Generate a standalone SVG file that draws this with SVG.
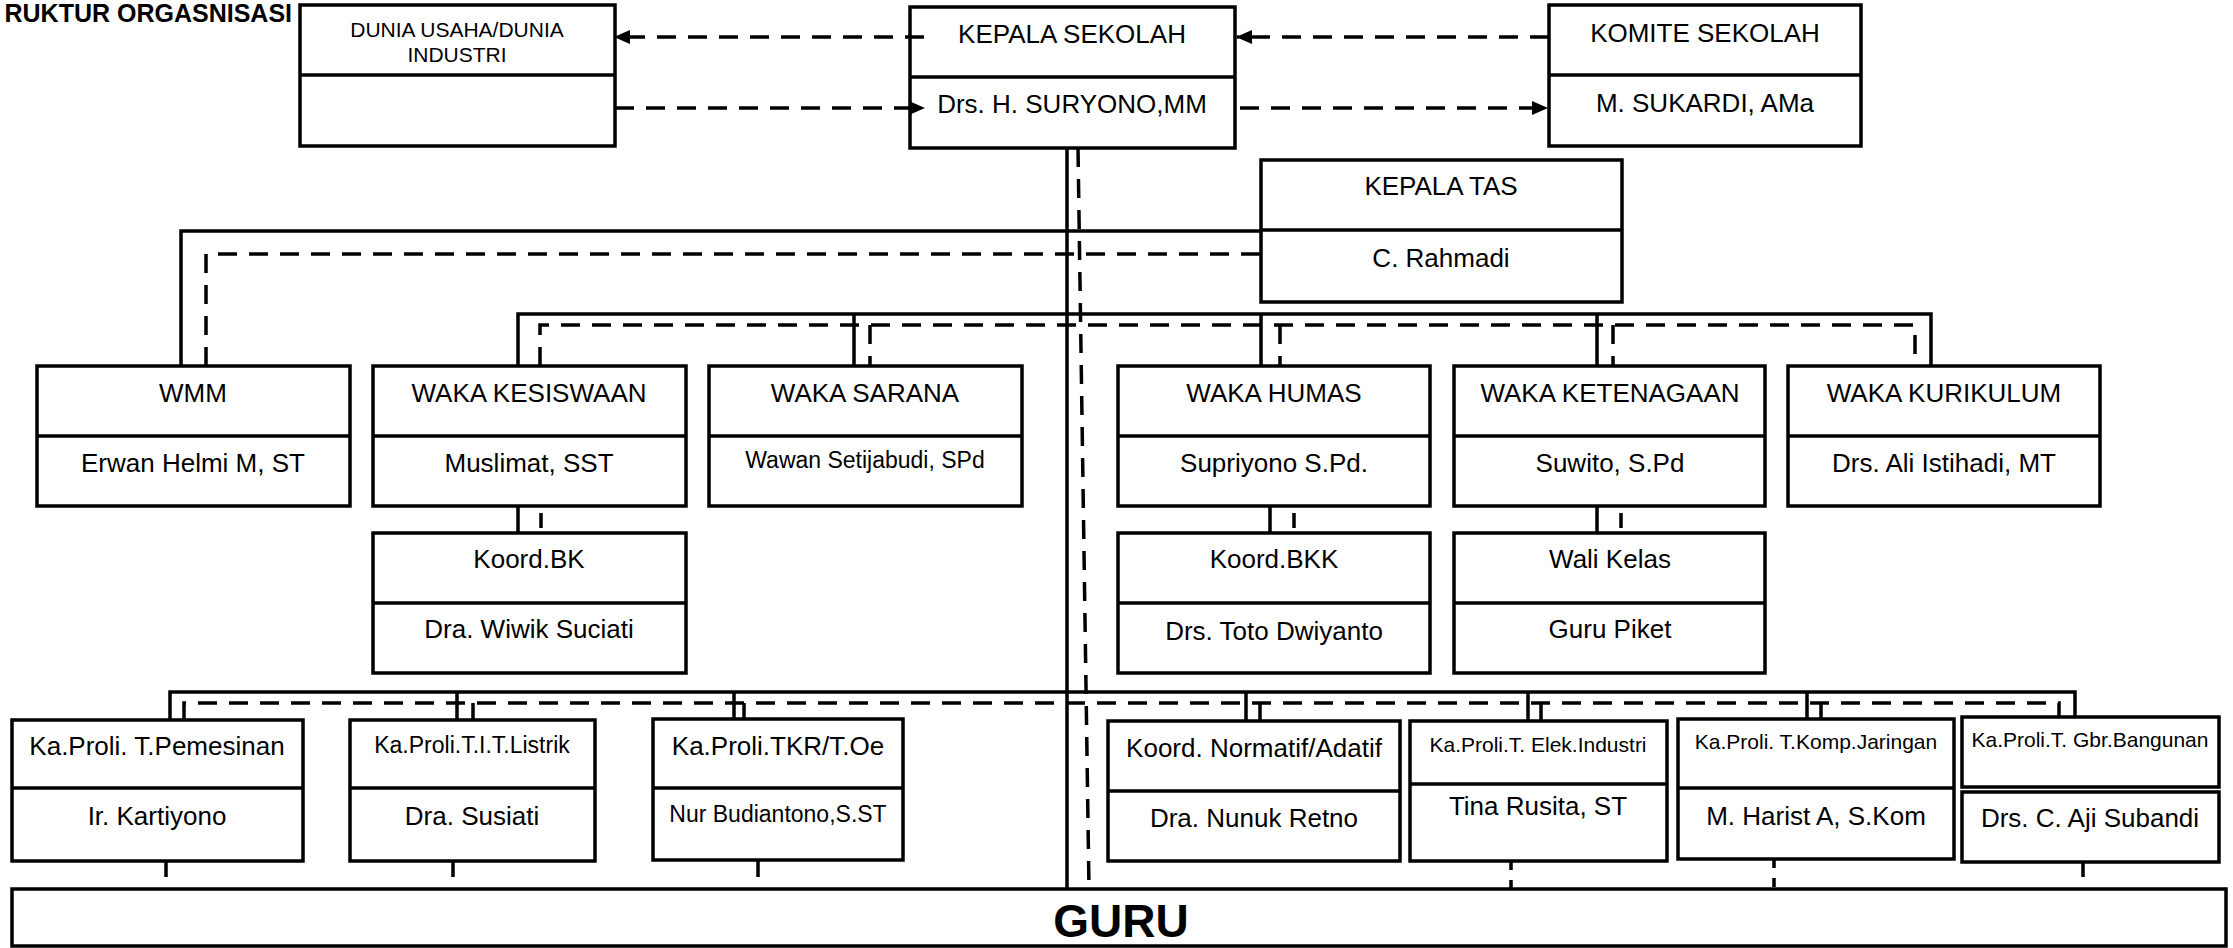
<svg xmlns="http://www.w3.org/2000/svg" width="2233" height="948" viewBox="0 0 2233 948">
<style>
.bx{fill:#fff;stroke:#000;stroke-width:3.5}
.dv{stroke:#000;stroke-width:3.5}
.t{font-family:"Liberation Sans",Arial,sans-serif;font-size:26px;text-anchor:middle;fill:#000}
.s23{font-size:23px}
.s21{font-size:21px}
.ln{fill:none;stroke:#000;stroke-width:3.5}
.ds{fill:none;stroke:#000;stroke-width:3.5;stroke-dasharray:19 12}
</style>
<defs>
<marker id="ah" markerUnits="userSpaceOnUse" markerWidth="16" markerHeight="14" refX="15" refY="7" orient="auto">
<path d="M0,0 L16,7 L0,14 z" fill="#000"/>
</marker>
</defs>
<rect width="2233" height="948" fill="#fff"/>
<text x="292" y="22" style="font-family:'Liberation Sans',Arial,sans-serif;font-size:25px;font-weight:bold;text-anchor:end">RUKTUR ORGASNISASI</text>

<g id="dunia"><rect class="bx" x="300" y="5" width="315" height="141"/><line class="dv" x1="300" y1="75" x2="615" y2="75"/><text class="t s21" x="457" y="37">DUNIA USAHA/DUNIA</text><text class="t s21" x="457" y="62">INDUSTRI</text></g>
<g id="kepala"><rect class="bx" x="910" y="7" width="325" height="141"/><line class="dv" x1="910" y1="77" x2="1235" y2="77"/><text class="t" x="1072" y="43">KEPALA SEKOLAH</text><text class="t" x="1072" y="113">Drs. H. SURYONO,MM</text></g>
<g id="komite"><rect class="bx" x="1549" y="5" width="312" height="141"/><line class="dv" x1="1549" y1="75" x2="1861" y2="75"/><text class="t" x="1705" y="42">KOMITE SEKOLAH</text><text class="t" x="1705" y="112">M. SUKARDI, AMa</text></g>
<g id="kepalatas"><rect class="bx" x="1261" y="160" width="361" height="142"/><line class="dv" x1="1261" y1="230" x2="1622" y2="230"/><text class="t" x="1441" y="195">KEPALA TAS</text><text class="t" x="1441" y="267">C. Rahmadi</text></g>

<g id="wmm"><rect class="bx" x="37" y="366" width="313" height="140"/><line class="dv" x1="37" y1="436" x2="350" y2="436"/><text class="t" x="193" y="402">WMM</text><text class="t" x="193" y="472">Erwan Helmi M, ST</text></g>
<g id="kesiswaan"><rect class="bx" x="373" y="366" width="313" height="140"/><line class="dv" x1="373" y1="436" x2="686" y2="436"/><text class="t" x="529" y="402">WAKA KESISWAAN</text><text class="t" x="529" y="472">Muslimat, SST</text></g>
<g id="sarana"><rect class="bx" x="709" y="366" width="313" height="140"/><line class="dv" x1="709" y1="436" x2="1022" y2="436"/><text class="t" x="865" y="402">WAKA SARANA</text><text class="t s23" x="865" y="468">Wawan Setijabudi, SPd</text></g>
<g id="humas"><rect class="bx" x="1118" y="366" width="312" height="140"/><line class="dv" x1="1118" y1="436" x2="1430" y2="436"/><text class="t" x="1274" y="402">WAKA HUMAS</text><text class="t" x="1274" y="472">Supriyono S.Pd.</text></g>
<g id="ketenagaan"><rect class="bx" x="1454" y="366" width="311" height="140"/><line class="dv" x1="1454" y1="436" x2="1765" y2="436"/><text class="t" x="1610" y="402">WAKA KETENAGAAN</text><text class="t" x="1610" y="472">Suwito, S.Pd</text></g>
<g id="kurikulum"><rect class="bx" x="1788" y="366" width="312" height="140"/><line class="dv" x1="1788" y1="436" x2="2100" y2="436"/><text class="t" x="1944" y="402">WAKA KURIKULUM</text><text class="t" x="1944" y="472">Drs. Ali Istihadi, MT</text></g>

<g id="koordbk"><rect class="bx" x="373" y="533" width="313" height="140"/><line class="dv" x1="373" y1="603" x2="686" y2="603"/><text class="t" x="529" y="568">Koord.BK</text><text class="t" x="529" y="638">Dra. Wiwik Suciati</text></g>
<g id="koordbkk"><rect class="bx" x="1118" y="533" width="312" height="140"/><line class="dv" x1="1118" y1="603" x2="1430" y2="603"/><text class="t" x="1274" y="568">Koord.BKK</text><text class="t" x="1274" y="640">Drs. Toto Dwiyanto</text></g>
<g id="walikelas"><rect class="bx" x="1454" y="533" width="311" height="140"/><line class="dv" x1="1454" y1="603" x2="1765" y2="603"/><text class="t" x="1610" y="568">Wali Kelas</text><text class="t" x="1610" y="638">Guru Piket</text></g>

<g id="pemesinan"><rect class="bx" x="12" y="720" width="291" height="141"/><line class="dv" x1="12" y1="788" x2="303" y2="788"/><text class="t" x="157" y="755">Ka.Proli. T.Pemesinan</text><text class="t" x="157" y="825">Ir. Kartiyono</text></g>
<g id="listrik"><rect class="bx" x="350" y="720" width="245" height="141"/><line class="dv" x1="350" y1="788" x2="595" y2="788"/><text class="t s23" x="472" y="753">Ka.Proli.T.I.T.Listrik</text><text class="t" x="472" y="825">Dra. Susiati</text></g>
<g id="tkr"><rect class="bx" x="653" y="719" width="250" height="141"/><line class="dv" x1="653" y1="788" x2="903" y2="788"/><text class="t" x="778" y="755">Ka.Proli.TKR/T.Oe</text><text class="t s23" x="778" y="822">Nur Budiantono,S.ST</text></g>
<g id="normatif"><rect class="bx" x="1108" y="721" width="292" height="140"/><line class="dv" x1="1108" y1="791" x2="1400" y2="791"/><text class="t" x="1254" y="757">Koord. Normatif/Adatif</text><text class="t" x="1254" y="827">Dra. Nunuk Retno</text></g>
<g id="elek"><rect class="bx" x="1410" y="721" width="257" height="140"/><line class="dv" x1="1410" y1="784" x2="1667" y2="784"/><text class="t s21" x="1538" y="752">Ka.Proli.T. Elek.Industri</text><text class="t" x="1538" y="815">Tina Rusita, ST</text></g>
<g id="komp"><rect class="bx" x="1678" y="719" width="276" height="140"/><line class="dv" x1="1678" y1="788" x2="1954" y2="788"/><text class="t s21" x="1816" y="749">Ka.Proli. T.Komp.Jaringan</text><text class="t" x="1816" y="825">M. Harist A, S.Kom</text></g>
<g id="gbr"><rect class="bx" x="1962" y="717" width="257" height="70"/><rect class="bx" x="1962" y="792" width="257" height="70"/><text class="t s21" x="2090" y="747">Ka.Proli.T. Gbr.Bangunan</text><text class="t" x="2090" y="827">Drs. C. Aji Subandi</text></g>

<g id="guru"><rect class="bx" x="12" y="889" width="2214" height="57"/><text x="1121" y="937" style="font-family:'Liberation Sans',Arial,sans-serif;font-size:46px;font-weight:bold;text-anchor:middle">GURU</text></g>

<g id="connectors">
<path class="ds" d="M924,37 H615" marker-end="url(#ah)"/>
<path class="ds" d="M615,108 H924" marker-end="url(#ah)"/>
<path class="ds" d="M1549,37 H1237" marker-end="url(#ah)"/>
<path class="ds" d="M1240,108 H1547" marker-end="url(#ah)"/>

<path class="ln" d="M1067,148 V889"/>
<path class="ds" d="M1078,148 L1089,889"/>

<path class="ln" d="M181,366 V231 H1261"/>
<path class="ds" d="M206,366 V254 H1261"/>

<path class="ln" d="M518,366 V314 H1931 V366 M854,314 V366 M1261,314 V366 M1597,314 V366"/>
<path class="ds" d="M540,366 V325 H1915 V366"/>
<path class="ds" d="M870,325 V366 M1280,325 V366 M1613,325 V366"/>

<path class="ln" d="M518,506 V533 M1270,506 V533 M1597,506 V533"/>
<path class="ln" d="M541,513 V528 M1294,513 V528 M1621,513 V528"/>

<path class="ln" d="M170,720 V692 H2075 V717 M457,692 V720 M734,692 V719 M1246,692 V721 M1528,692 V721 M1807,692 V719"/>
<path class="ds" d="M184,720 V703 H2059 V717"/>
<path class="ln" d="M473,703 V720 M744,703 V719 M1260,703 V721 M1541,703 V721 M1821,703 V719"/>

<path class="ln" d="M166,861 V877 M453,861 V877 M758,860 V877 M2083,862 V877"/>
<path class="ln" style="stroke-dasharray:9 10" d="M1511,861 V889 M1774,859 V889"/>
</g>
</svg>
